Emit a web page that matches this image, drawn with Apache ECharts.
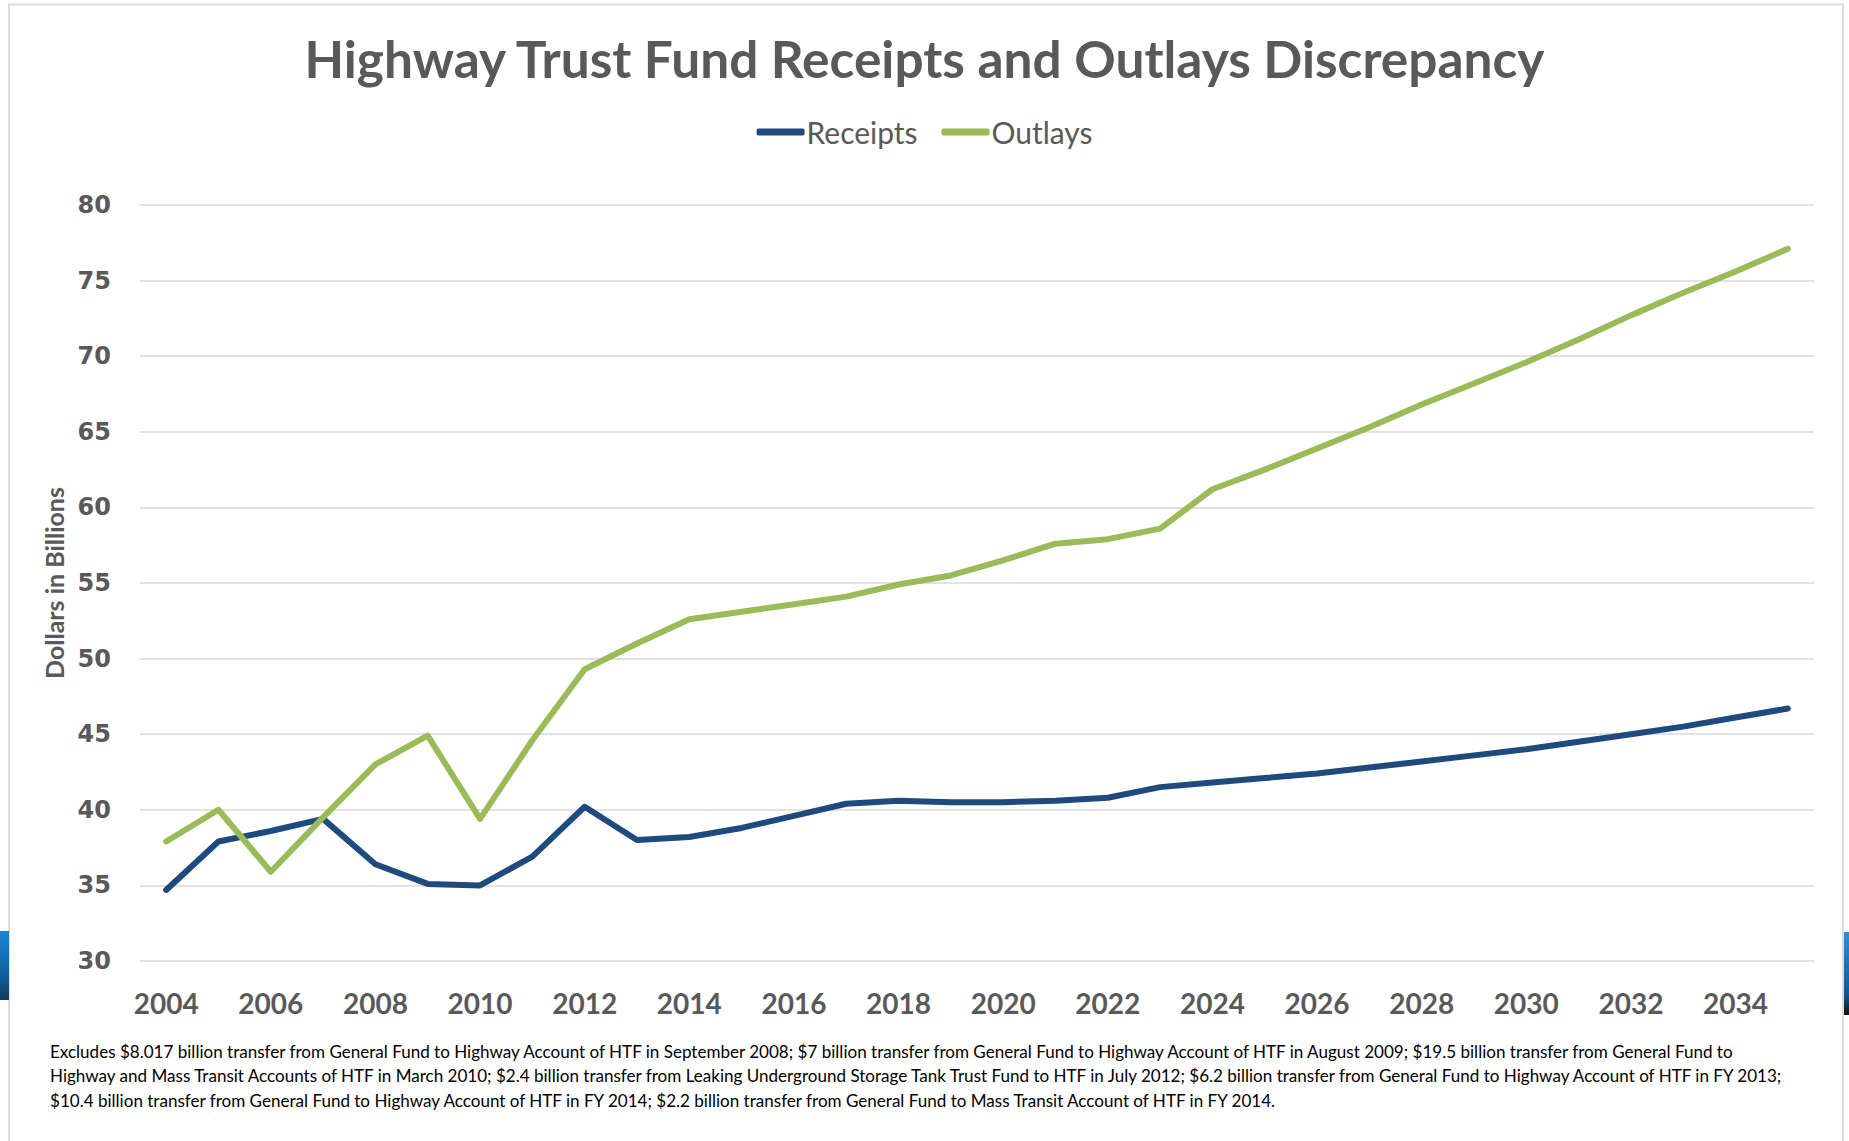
<!DOCTYPE html>
<html><head><meta charset="utf-8">
<script src="https://cdn.jsdelivr.net/npm/echarts@6/dist/echarts.min.js"></script>
<style>html,body{margin:0;padding:0;background:#fff;}#c{width:1849px;height:1141px;}</style>
</head><body><div id="c"></div>
<script>
const years = ['2004','2005','2006','2007','2008','2009','2010','2011','2012','2013','2014','2015','2016','2017','2018','2019','2020','2021','2022','2023','2024','2025','2026','2027','2028','2029','2030','2031','2032','2033','2034','2035'];
const receipts = [34.7,37.9,38.6,39.4,36.4,35.1,35.0,36.9,40.2,38.0,38.2,38.8,39.6,40.4,40.6,40.5,40.5,40.6,40.8,41.5,41.8,42.1,42.4,42.8,43.2,43.6,44.0,44.5,45.0,45.5,46.1,46.7];
const outlays = [37.9,40.0,35.9,39.5,43.0,44.9,39.4,44.6,49.3,51.0,52.6,53.1,53.6,54.1,54.9,55.5,56.5,57.6,57.9,58.6,61.2,62.5,63.9,65.3,66.8,68.2,69.6,71.1,72.7,74.2,75.6,77.1];
const yMin = 30, yMax = 80, yStep = 5;
const titleText = 'Highway Trust Fund Receipts and Outlays Discrepancy';
const yAxisTitle = 'Dollars in Billions';
const seriesNames = ['Receipts', 'Outlays'];
const footnoteLines = [
  'Excludes $8.017 billion transfer from General Fund to Highway Account of HTF in September 2008; $7 billion transfer from General Fund to Highway Account of HTF in August 2009; $19.5 billion transfer from General Fund to',
  'Highway and Mass Transit Accounts of HTF in March 2010; $2.4 billion transfer from Leaking Underground Storage Tank Trust Fund to HTF in July 2012; $6.2 billion transfer from General Fund to Highway Account of HTF in FY 2013;',
  '$10.4 billion transfer from General Fund to Highway Account of HTF in FY 2014; $2.2 billion transfer from General Fund to Mass Transit Account of HTF in FY 2014.'
];

function fit(text, weight, family, target) {
  const ctx = document.createElement('canvas').getContext('2d');
  ctx.font = weight + ' 100px ' + family;
  return 100 * target / ctx.measureText(text).width;
}
const F = 'Lato';
const titleSize = fit(titleText, 'bold', F, 1243);
const footSize = fit(footnoteLines[1], 'normal', F, 1740);
const yNameSize = fit(yAxisTitle, 'bold', F, 192);
const legendSize = fit('Receipts', 'normal', F, 111);
const grey = '#595959';

const chart = echarts.init(document.getElementById('c'), null, {renderer: 'svg'});
chart.setOption({
  backgroundColor: '#ffffff',
  animation: false,
  title: {
    text: titleText, left: 'center', top: 58 - titleSize * 0.6,
    textStyle: {fontFamily: F, fontWeight: 'bold', fontSize: titleSize, color: grey}
  },
  legend: {
    data: seriesNames.map(n => ({name: n, icon: 'roundRect'})),
    top: 127 - legendSize / 2, left: 'center',
    itemWidth: 48, itemHeight: 7, itemGap: 24,
    textStyle: {fontFamily: F, fontSize: legendSize, color: grey, padding: [0, 0, 0, -3]}
  },
  grid: {left: 140, right: 35, top: 205, bottom: 180, containLabel: false},
  xAxis: {
    type: 'category', data: years, boundaryGap: true,
    axisLine: {show: false}, axisTick: {show: false},
    axisLabel: {interval: 1, margin: 28, fontFamily: F, fontWeight: 'bold', fontSize: 28, color: grey}
  },
  yAxis: {
    type: 'value', min: yMin, max: yMax, interval: yStep,
    name: yAxisTitle, nameLocation: 'middle', nameGap: 74, nameRotate: 90,
    nameTextStyle: {fontFamily: F, fontWeight: 'bold', fontSize: yNameSize, color: grey},
    axisLine: {show: false}, axisTick: {show: false},
    axisLabel: {margin: 29, fontFamily: 'DejaVu Sans', fontWeight: 'bold', fontSize: 24, color: grey},
    splitLine: {lineStyle: {color: '#d9d9d9', width: 1.5}}
  },
  series: [
    {name: seriesNames[0], type: 'line', data: receipts, showSymbol: false, symbol: 'none',
     lineStyle: {color: '#1f4a7e', width: 6, cap: 'round', join: 'round'}, itemStyle: {color: '#1f4a7e'}},
    {name: seriesNames[1], type: 'line', data: outlays, showSymbol: false, symbol: 'none',
     lineStyle: {color: '#9bbb59', width: 6, cap: 'round', join: 'round'}, itemStyle: {color: '#9bbb59'}}
  ],
  graphic: [
    {type: 'rect', silent: true, shape: {x: 9, y: 4.5, width: 1834, height: 1200},
     style: {fill: 'none', stroke: '#dcdcdc', lineWidth: 2}},
    {type: 'rect', silent: true, shape: {x: 0, y: 931, width: 9, height: 69},
     style: {fill: new echarts.graphic.LinearGradient(0, 0, 0, 1, [{offset: 0, color: '#1a86d0'}, {offset: 0.7, color: '#0f5d97'}, {offset: 1, color: '#123a5a'}])}},
    {type: 'rect', silent: true, shape: {x: 1844, y: 932, width: 5, height: 83},
     style: {fill: new echarts.graphic.LinearGradient(0, 0, 0, 1, [{offset: 0, color: '#2b8fd6'}, {offset: 0.75, color: '#0d5a95'}, {offset: 1, color: '#111111'}])}},
    {type: 'text', silent: true, left: 50, top: 1049 - footSize * 0.6,
     style: {text: footnoteLines.join('\n'), fontFamily: F, fontSize: footSize, lineHeight: 24.5, fill: '#000000'}}
  ]
});
</script></body></html>
